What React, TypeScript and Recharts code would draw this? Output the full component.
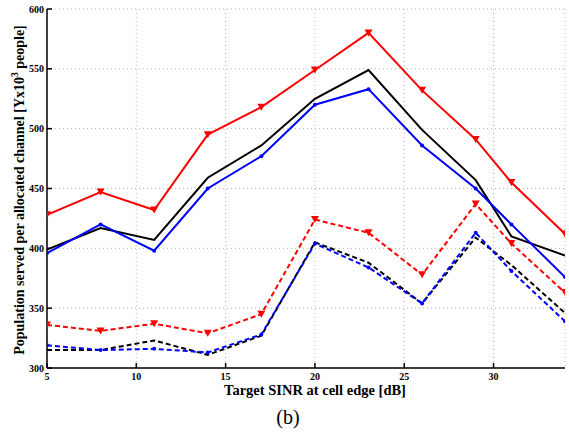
import { LineChart, Line, XAxis, YAxis, CartesianGrid, Customized } from 'recharts';

// Target SINR at cell edge [dB]
const sinr = [5, 8, 11, 14, 17, 20, 23, 26, 29, 31, 34];

// population served per allocated channel [x10^3 people]
const redSolid = [428, 447, 432, 495, 518, 549, 580, 532, 491, 455, 412];
const blackSolid = [399, 417, 407, 459, 486, 525, 549, 499, 457, 410, 394];
const blueSolid = [396, 420, 398, 450, 477, 520, 533, 486, 450, 420, 376];
const redDashed = [336, 331, 337, 329, 345, 424, 413, 378, 437, 404, 363];
const blackDashed = [315, 315, 323, 311, 327, 405, 388, 354, 409, 386, 346];
const blueDashed = [319, 315, 316, 313, 328, 404, 384, 354, 413, 381, 339];

const xTicks = [5, 10, 15, 20, 25, 30];
const yTicks = [300, 350, 400, 450, 500, 550, 600];

const data = sinr.map((x, i) => ({
  x,
  redSolid: redSolid[i],
  blackSolid: blackSolid[i],
  blueSolid: blueSolid[i],
  redDashed: redDashed[i],
  blackDashed: blackDashed[i],
  blueDashed: blueDashed[i],
}));

const FONT = '"Liberation Serif", "Times New Roman", serif';
const tickStyle = { fill: '#000', fontSize: 10, fontWeight: 700, fontFamily: FONT };

function Triangle(props: any) {
  const { cx, cy } = props;
  if (cx == null || cy == null) return <g />;
  return <path d={`M${cx - 4},${cy - 3.5} L${cx + 4},${cy - 3.5} L${cx},${cy + 3.5} Z`} fill="#ff0000" />;
}

function Dot(props: any) {
  const { cx, cy } = props;
  if (cx == null || cy == null) return <g />;
  return <circle cx={cx} cy={cy} r={2} fill="#0000ff" />;
}

const noTick = () => <g />;

function Labels() {
  return (
    <g fontFamily={FONT} fill="#000">
      <text x={21} y={190} transform="rotate(-90 21 190)" textAnchor="middle" dominantBaseline="middle" fontSize={14} fontWeight={700}>
        Population served per allocated channel [Yx10<tspan dy={-5} fontSize={9.5}>3</tspan>
        <tspan dy={5}> people]</tspan>
      </text>
      <text x={315} y={395} textAnchor="middle" fontSize={14.5} fontWeight={700}>
        Target SINR at cell edge [dB]
      </text>
      <text x={288} y={424} textAnchor="middle" fontSize={20}>
        (b)
      </text>
    </g>
  );
}

export default function App() {
  return (
    <div style={{ position: 'absolute', left: 0, top: 0, background: '#fff' }}>
      <LineChart width={569} height={435} data={data} margin={{ top: 9, right: 4, bottom: 0, left: 0 }}>
        <CartesianGrid stroke="#b4b4b4" strokeDasharray="1 3" strokeWidth={1} />
        <XAxis
          dataKey="x"
          type="number"
          domain={[5, 34]}
          ticks={xTicks}
          allowDataOverflow
          height={67}
          stroke="#000"
          strokeWidth={1.5}
          tickSize={-5}
          tickMargin={10}
          tick={tickStyle}
        />
        <XAxis
          xAxisId="top"
          orientation="top"
          dataKey="x"
          type="number"
          domain={[5, 34]}
          ticks={xTicks}
          height={0}
          stroke="#000"
          strokeWidth={1.5}
          tickSize={-5}
          tick={noTick}
        />
        <YAxis
          type="number"
          domain={[300, 600]}
          ticks={yTicks}
          allowDataOverflow
          width={47}
          stroke="#000"
          strokeWidth={1.5}
          tickSize={-5}
          tickMargin={8}
          tick={tickStyle}
        />
        <YAxis
          yAxisId="right"
          orientation="right"
          type="number"
          domain={[300, 600]}
          ticks={yTicks}
          width={0}
          stroke="#000"
          strokeWidth={1.5}
          tickSize={-5}
          tick={noTick}
        />
        <Line dataKey="blackDashed" stroke="#000" strokeWidth={2} strokeDasharray="5 3" dot={false} isAnimationActive={false} />
        <Line dataKey="blueDashed" stroke="#0000ff" strokeWidth={2} strokeDasharray="5 3" dot={<Dot />} isAnimationActive={false} />
        <Line dataKey="redDashed" stroke="#ff0000" strokeWidth={2} strokeDasharray="5 3" dot={<Triangle />} isAnimationActive={false} />
        <Line dataKey="blackSolid" stroke="#000" strokeWidth={2} dot={false} isAnimationActive={false} />
        <Line dataKey="blueSolid" stroke="#0000ff" strokeWidth={2} dot={<Dot />} isAnimationActive={false} />
        <Line dataKey="redSolid" stroke="#ff0000" strokeWidth={2} dot={<Triangle />} isAnimationActive={false} />
        <Customized component={Labels} />
      </LineChart>
    </div>
  );
}
